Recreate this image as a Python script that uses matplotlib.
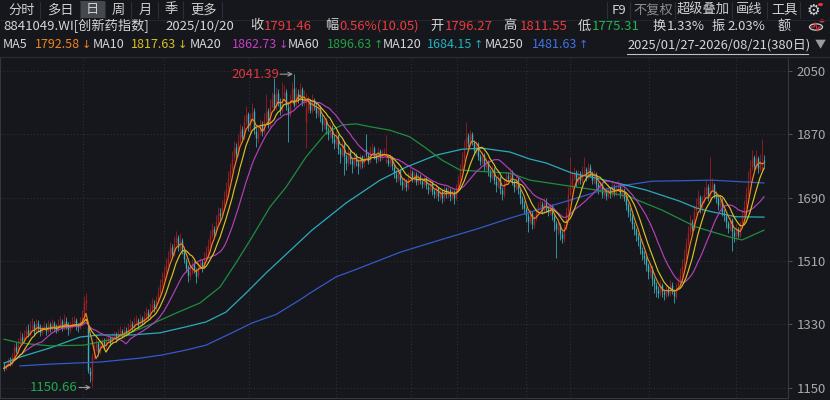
import matplotlib
matplotlib.use('Agg')
import matplotlib.pyplot as plt
import numpy as np
import pandas as pd
from matplotlib.patches import Rectangle, Circle
from matplotlib.lines import Line2D

plt.rcParams['font.family'] = ['Noto Sans CJK SC', 'DejaVu Sans']

# ---------------- data ----------------
closes = [
    1205, 1212, 1225, 1218, 1240, 1262, 1255, 1275, 1290, 1282,
    1298, 1310, 1302, 1318, 1325, 1312, 1330, 1320, 1308, 1316,
    1322, 1312, 1326, 1318, 1330, 1322, 1315, 1328, 1335, 1320,
    1336, 1328, 1318, 1325, 1332, 1340, 1326, 1322, 1338, 1352,
    1395, 1400, 1200, 1185, 1240, 1262, 1275, 1250, 1268, 1280,
    1270, 1282, 1290, 1278, 1295, 1300, 1288, 1305, 1310, 1298,
    1312, 1305, 1320, 1330, 1322, 1335, 1340, 1328, 1345, 1338,
    1350, 1362, 1355, 1372, 1385, 1378, 1398, 1420, 1445, 1460,
    1478, 1500, 1520, 1548, 1530, 1562, 1575, 1550, 1568, 1540,
    1515, 1490, 1470, 1478, 1500, 1485, 1468, 1495, 1505, 1490,
    1520, 1535, 1555, 1580, 1600, 1590, 1620, 1645, 1640, 1665,
    1690, 1715, 1745, 1770, 1800, 1830, 1815, 1850, 1880, 1862,
    1905, 1925, 1890, 1912, 1935, 1885, 1860, 1875, 1895, 1880,
    1910, 1935, 1900, 1950, 1970, 1945, 1985, 1960, 1940, 1975,
    1990, 1950, 1925, 1965, 2000, 1955, 1985, 1970, 1995, 1960,
    1975, 1945, 1960, 1940, 1965, 1950, 1930, 1945, 1920, 1900,
    1910, 1885, 1870, 1890, 1860, 1845, 1865, 1830, 1815, 1840,
    1810, 1790, 1820, 1800, 1785, 1810, 1795, 1780, 1805, 1790,
    1800, 1815, 1795, 1825, 1830, 1810, 1800, 1820, 1805, 1815,
    1820, 1800, 1790, 1805, 1780, 1760, 1745, 1765, 1740, 1725,
    1735, 1720, 1750, 1760, 1745, 1755, 1735, 1750, 1740, 1730,
    1740, 1725, 1715, 1730, 1710, 1700, 1715, 1695, 1705, 1690,
    1715, 1700, 1710, 1695, 1705, 1690, 1720, 1740, 1770, 1800,
    1830, 1860, 1845, 1870, 1850, 1825, 1840, 1810, 1795, 1810,
    1780, 1790, 1765, 1750, 1770, 1740, 1725, 1745, 1715, 1700,
    1730, 1750, 1745, 1760, 1735, 1720, 1740, 1715, 1690, 1675,
    1660, 1640, 1625, 1645, 1615, 1630, 1650, 1665, 1670, 1655,
    1675, 1660, 1650, 1665, 1640, 1620, 1600, 1610, 1590, 1575,
    1600, 1650, 1700, 1720, 1745, 1760, 1735, 1755, 1740, 1765,
    1770, 1750, 1775, 1760, 1740, 1755, 1730, 1715, 1725, 1700,
    1710, 1695, 1715, 1700, 1720, 1705, 1715, 1725, 1700, 1710,
    1690, 1670, 1650, 1640, 1615, 1600, 1585, 1570, 1545, 1530,
    1520, 1500, 1480, 1490, 1460, 1445, 1430, 1420, 1440, 1425,
    1415, 1430, 1420, 1440, 1425, 1410, 1435, 1450, 1470, 1495,
    1520, 1560, 1590, 1620, 1605, 1650, 1670, 1690, 1660, 1680,
    1700, 1720, 1690, 1710, 1725, 1700, 1690, 1670, 1680, 1650,
    1640, 1620, 1605, 1625, 1595, 1580, 1600, 1585, 1610, 1640,
    1665, 1700, 1740, 1775, 1800, 1780, 1800, 1775, 1795, 1781.41, 1791.46,
]
opens = [
    1215, 1203, 1214, 1228, 1220, 1242, 1265, 1258, 1278, 1295,
    1280, 1300, 1315, 1300, 1320, 1330, 1310, 1335, 1322, 1305,
    1318, 1326, 1310, 1330, 1316, 1334, 1325, 1312, 1330, 1340,
    1318, 1340, 1330, 1315, 1328, 1336, 1342, 1328, 1320, 1335,
    1350, 1392, 1322, 1198, 1172, 1245, 1265, 1278, 1252, 1270,
    1284, 1268, 1285, 1292, 1280, 1296, 1302, 1290, 1308, 1312,
    1296, 1315, 1306, 1322, 1332, 1320, 1338, 1342, 1330, 1348,
    1336, 1352, 1365, 1352, 1375, 1388, 1376, 1400, 1418, 1448,
    1462, 1480, 1502, 1522, 1550, 1528, 1565, 1578, 1548, 1570,
    1538, 1512, 1492, 1468, 1480, 1502, 1482, 1470, 1498, 1508,
    1492, 1522, 1538, 1558, 1582, 1602, 1592, 1622, 1648, 1642,
    1668, 1692, 1718, 1748, 1772, 1805, 1835, 1812, 1855, 1885,
    1860, 1908, 1928, 1888, 1915, 1938, 1880, 1858, 1878, 1898,
    1878, 1912, 1938, 1898, 1952, 1985, 1948, 1988, 1962, 1938,
    1978, 1992, 1948, 1928, 1968, 2002, 1958, 1988, 1972, 1998,
    1962, 1905, 1942, 1962, 1938, 1968, 1952, 1928, 1948, 1918,
    1898, 1912, 1882, 1868, 1892, 1858, 1842, 1868, 1828, 1812,
    1842, 1808, 1788, 1822, 1798, 1782, 1812, 1792, 1778, 1808,
    1788, 1830, 1812, 1792, 1828, 1832, 1808, 1798, 1822, 1802,
    1818, 1795, 1798, 1788, 1802, 1778, 1758, 1742, 1768, 1738,
    1722, 1738, 1718, 1752, 1762, 1742, 1758, 1732, 1752, 1738,
    1728, 1742, 1722, 1712, 1732, 1708, 1698, 1718, 1692, 1708,
    1688, 1718, 1698, 1712, 1692, 1708, 1688, 1722, 1742, 1772,
    1802, 1835, 1865, 1842, 1872, 1848, 1822, 1842, 1808, 1792,
    1812, 1778, 1792, 1762, 1748, 1772, 1738, 1722, 1748, 1712,
    1698, 1732, 1752, 1742, 1762, 1732, 1718, 1742, 1712, 1688,
    1672, 1658, 1638, 1622, 1648, 1612, 1632, 1652, 1668, 1672,
    1652, 1678, 1658, 1648, 1668, 1638, 1618, 1598, 1612, 1588,
    1572, 1602, 1652, 1702, 1722, 1748, 1762, 1732, 1758, 1738,
    1768, 1772, 1748, 1778, 1758, 1738, 1758, 1728, 1712, 1728,
    1698, 1712, 1692, 1718, 1698, 1722, 1702, 1718, 1728, 1698,
    1712, 1688, 1668, 1648, 1638, 1612, 1598, 1582, 1568, 1542,
    1528, 1518, 1498, 1478, 1488, 1458, 1442, 1428, 1418, 1442,
    1422, 1412, 1432, 1418, 1442, 1422, 1408, 1438, 1452, 1472,
    1498, 1522, 1562, 1592, 1622, 1602, 1652, 1672, 1692, 1658,
    1682, 1702, 1722, 1688, 1712, 1728, 1698, 1688, 1668, 1682,
    1648, 1638, 1618, 1602, 1628, 1592, 1578, 1602, 1582, 1612,
    1642, 1668, 1702, 1742, 1778, 1805, 1778, 1802, 1772, 1770, 1796.27,
]
highs = [
    1222, 1220, 1235, 1236, 1250, 1275, 1280, 1290, 1310, 1305,
    1315, 1325, 1332, 1340, 1348, 1340, 1345, 1342, 1330, 1328,
    1340, 1333, 1342, 1338, 1345, 1340, 1332, 1346, 1355, 1345,
    1360, 1350, 1338, 1340, 1350, 1355, 1348, 1335, 1352, 1370,
    1410, 1419, 1330, 1210, 1248, 1275, 1290, 1282, 1280, 1292,
    1290, 1295, 1302, 1298, 1305, 1312, 1308, 1318, 1325, 1318,
    1325, 1322, 1335, 1345, 1340, 1350, 1356, 1348, 1360, 1355,
    1368, 1380, 1375, 1390, 1405, 1398, 1412, 1435, 1460, 1478,
    1495, 1518, 1540, 1565, 1558, 1580, 1595, 1585, 1590, 1575,
    1545, 1520, 1500, 1492, 1515, 1510, 1490, 1508, 1520, 1515,
    1535, 1552, 1572, 1598, 1618, 1610, 1640, 1665, 1660, 1685,
    1710, 1735, 1765, 1790, 1822, 1850, 1845, 1870, 1900, 1895,
    1925, 1950, 1935, 1932, 1960, 1945, 1892, 1895, 1915, 1908,
    1930, 1985, 1945, 1970, 1990, 2031, 2005, 2000, 1975, 2018,
    2012, 2000, 1960, 1985, 2020, 2041.39, 2005, 1998, 2015, 2005,
    1995, 1988, 1980, 1972, 1985, 1975, 1960, 1962, 1955, 1928,
    1925, 1918, 1892, 1905, 1898, 1868, 1880, 1872, 1835, 1855,
    1848, 1815, 1835, 1828, 1805, 1822, 1818, 1800, 1815, 1812,
    1815, 1872, 1820, 1838, 1845, 1838, 1815, 1835, 1828, 1828,
    1832, 1868, 1808, 1815, 1808, 1785, 1768, 1775, 1772, 1745,
    1750, 1742, 1762, 1775, 1768, 1765, 1762, 1760, 1758, 1745,
    1752, 1748, 1730, 1742, 1738, 1715, 1728, 1722, 1715, 1712,
    1725, 1722, 1720, 1718, 1715, 1712, 1730, 1755, 1785, 1820,
    1855, 1905, 1875, 1882, 1878, 1855, 1852, 1848, 1815, 1822,
    1818, 1802, 1798, 1772, 1782, 1778, 1748, 1758, 1752, 1720,
    1742, 1765, 1762, 1775, 1768, 1740, 1752, 1748, 1718, 1695,
    1680, 1665, 1648, 1658, 1652, 1642, 1662, 1678, 1688, 1680,
    1688, 1690, 1668, 1675, 1672, 1645, 1625, 1625, 1618, 1595,
    1615, 1665, 1720, 1805, 1765, 1778, 1768, 1768, 1765, 1780,
    1807, 1778, 1790, 1785, 1765, 1768, 1762, 1735, 1738, 1732,
    1722, 1718, 1728, 1722, 1735, 1728, 1728, 1740, 1732, 1722,
    1718, 1695, 1675, 1660, 1645, 1620, 1605, 1590, 1575, 1550,
    1538, 1525, 1505, 1502, 1495, 1465, 1450, 1438, 1455, 1448,
    1432, 1445, 1440, 1455, 1450, 1430, 1448, 1465, 1490, 1515,
    1545, 1575, 1610, 1640, 1630, 1668, 1690, 1712, 1698, 1695,
    1720, 1740, 1728, 1806, 1745, 1732, 1708, 1695, 1692, 1688,
    1658, 1645, 1625, 1638, 1632, 1600, 1615, 1608, 1625, 1655,
    1685, 1720, 1765, 1798, 1825, 1812, 1825, 1808, 1815, 1857, 1811.55,
]
lows = [
    1198, 1200, 1208, 1212, 1215, 1238, 1248, 1250, 1270, 1275,
    1276, 1292, 1295, 1296, 1310, 1300, 1305, 1310, 1298, 1300,
    1310, 1300, 1305, 1308, 1310, 1312, 1305, 1308, 1322, 1310,
    1315, 1318, 1300, 1305, 1320, 1325, 1315, 1308, 1316, 1330,
    1345, 1370, 1191, 1165, 1150.66, 1232, 1255, 1240, 1245, 1262,
    1262, 1260, 1276, 1268, 1274, 1288, 1280, 1285, 1298, 1290,
    1292, 1298, 1300, 1315, 1312, 1316, 1328, 1318, 1325, 1328,
    1332, 1345, 1345, 1348, 1368, 1365, 1372, 1395, 1412, 1440,
    1455, 1472, 1495, 1515, 1520, 1525, 1555, 1540, 1540, 1530,
    1505, 1478, 1450, 1455, 1472, 1475, 1447, 1462, 1488, 1480,
    1488, 1515, 1530, 1550, 1575, 1578, 1585, 1615, 1628, 1635,
    1660, 1685, 1710, 1740, 1765, 1795, 1800, 1808, 1845, 1848,
    1855, 1898, 1880, 1875, 1905, 1870, 1835, 1845, 1868, 1865,
    1870, 1905, 1888, 1892, 1945, 1940, 1940, 1950, 1925, 1932,
    1965, 1940, 1848, 1920, 1960, 1948, 1950, 1958, 1965, 1950,
    1952, 1832, 1932, 1930, 1930, 1940, 1918, 1920, 1905, 1880,
    1885, 1870, 1855, 1860, 1845, 1830, 1835, 1815, 1790, 1805,
    1755, 1770, 1780, 1785, 1760, 1775, 1780, 1758, 1772, 1775,
    1778, 1805, 1785, 1788, 1815, 1800, 1788, 1792, 1795, 1798,
    1808, 1788, 1780, 1778, 1770, 1745, 1735, 1735, 1725, 1712,
    1715, 1708, 1712, 1745, 1735, 1735, 1725, 1725, 1730, 1718,
    1720, 1715, 1700, 1705, 1698, 1688, 1690, 1680, 1685, 1675,
    1682, 1690, 1690, 1682, 1685, 1672, 1685, 1715, 1735, 1765,
    1795, 1828, 1835, 1835, 1840, 1812, 1815, 1798, 1782, 1785,
    1765, 1768, 1752, 1735, 1742, 1728, 1705, 1718, 1700, 1685,
    1692, 1725, 1735, 1738, 1725, 1705, 1712, 1700, 1672, 1658,
    1645, 1622, 1592, 1615, 1600, 1605, 1625, 1645, 1658, 1645,
    1648, 1650, 1638, 1640, 1628, 1595, 1518, 1585, 1570, 1560,
    1565, 1598, 1645, 1695, 1715, 1740, 1722, 1725, 1728, 1732,
    1755, 1738, 1742, 1748, 1728, 1730, 1718, 1702, 1705, 1690,
    1690, 1685, 1688, 1690, 1692, 1695, 1696, 1710, 1690, 1690,
    1680, 1655, 1635, 1625, 1600, 1585, 1568, 1552, 1530, 1512,
    1502, 1482, 1458, 1465, 1440, 1418, 1408, 1405, 1412, 1408,
    1400, 1405, 1410, 1412, 1415, 1392, 1402, 1430, 1445, 1465,
    1490, 1515, 1555, 1585, 1595, 1598, 1645, 1662, 1648, 1650,
    1675, 1695, 1680, 1682, 1705, 1688, 1675, 1655, 1660, 1638,
    1625, 1605, 1590, 1595, 1540, 1565, 1570, 1575, 1578, 1605,
    1635, 1660, 1695, 1735, 1770, 1768, 1772, 1760, 1765, 1765, 1775.31,
]

# long moving averages (candle index, value)
ma60_idx = [0, 8, 23, 40, 53, 64, 75, 86, 98, 108, 116, 124, 133, 141, 151, 161, 169, 176,
            184, 193, 203, 211, 219, 228, 238, 253, 263, 296, 313, 329, 346, 363, 369, 380]
ma60_val = [1288, 1277, 1269, 1271, 1286, 1308, 1334, 1362, 1391, 1436, 1505, 1578, 1664, 1720,
            1806, 1874, 1897, 1900, 1891, 1882, 1863, 1831, 1797, 1769, 1765, 1760, 1740, 1712,
            1692, 1655, 1607, 1578, 1570, 1598]
ma120_idx = [0, 8, 23, 38, 48, 64, 78, 91, 101, 111, 121, 131, 138, 154, 171, 188, 201, 216,
             229, 239, 253, 263, 271, 284, 296, 308, 321, 338, 346, 354, 366, 380]
ma120_val = [1220, 1237, 1263, 1294, 1300, 1300, 1306, 1323, 1337, 1365, 1419, 1476, 1513, 1598,
             1675, 1740, 1777, 1811, 1828, 1831, 1820, 1800, 1789, 1760, 1746, 1730, 1712, 1680,
             1661, 1650, 1636, 1635]
ma250_idx = [8, 23, 48, 68, 79, 91, 101, 114, 124, 136, 148, 153, 166, 175, 198, 218, 238, 253,
             263, 288, 304, 324, 354, 380]
ma250_val = [1212, 1217, 1223, 1234, 1243, 1257, 1271, 1306, 1334, 1358, 1400, 1419, 1465, 1484,
             1535, 1570, 1604, 1632, 1649, 1692, 1720, 1737, 1740, 1732]

yticks = [1150, 1330, 1510, 1690, 1870, 2050]
vgrid_idx = [39.5, 80, 122.5, 166, 203.5, 226.5, 261, 283, 322.5, 366]

hi_idx, hi_val = 145, 2041.39
lo_idx, lo_val = 44, 1150.66

ma_names = ['MA5', 'MA10', 'MA20', 'MA60', 'MA120', 'MA250']
ma_last = ['1792.58', '1817.63', '1862.73', '1896.63', '1684.15', '1481.63']
ma_dir = ['↓', '↓', '↓', '↑', '↑', '↑']

assert len(closes) == len(opens) == len(highs) == len(lows), (len(closes), len(opens), len(highs), len(lows))

# ---------------- figure ----------------
W, H = 830, 400
BG = '#15171c'
fig = plt.figure(figsize=(W / 100, H / 100), dpi=100)
fig.patch.set_facecolor(BG)

ax = fig.add_axes([0, (H - 398) / H, 788 / W, (398 - 57) / H])
ax.set_facecolor(BG)

n = len(closes)
idx = np.arange(n)
o = np.array(opens, float); c = np.array(closes, float)
h = np.array(highs, float); l = np.array(lows, float)
up = c >= o
RED, CYAN = '#a81d20', '#37b4c1'
cols = np.where(up, RED, CYAN)

# grid
for yv in yticks:
    ax.axhline(yv, color='#2d3036', lw=0.8, ls=(0, (1, 2)), zorder=0)
for gx in vgrid_idx:
    ax.axvline(gx, color='#2d3036', lw=0.8, ls=(0, (1, 2)), zorder=0)

# candles
ax.vlines(idx, l, h, colors=cols, lw=0.55, zorder=2)
bot = np.minimum(o, c)
top = np.maximum(np.maximum(o, c), bot + 2)
ax.vlines(idx, bot, top, colors=cols, lw=1.0, zorder=2)

# moving averages
s = pd.Series(c)
ma5 = s.rolling(5, min_periods=1).mean()
ma10 = s.rolling(10, min_periods=1).mean()
ma20 = s.rolling(20, min_periods=1).mean()
C_MA5, C_MA10, C_MA20 = '#f0851c', '#d9c323', '#b63fba'
C_MA60, C_MA120, C_MA250 = '#1f8e3c', '#2aabbb', '#3459c9'
ax.plot(ma250_idx, ma250_val, color=C_MA250, lw=0.9, zorder=3)
ax.plot(ma120_idx, ma120_val, color=C_MA120, lw=0.9, zorder=3)
ax.plot(ma60_idx, ma60_val, color=C_MA60, lw=0.9, zorder=3)
ax.plot(idx, ma20, color=C_MA20, lw=0.85, zorder=4)
ax.plot(idx, ma10, color=C_MA10, lw=0.85, zorder=4)
ax.plot(idx, ma5, color=C_MA5, lw=0.85, zorder=5)

ax.set_xlim(-2, 392)
ax.set_ylim(1120.7, 2090.2)

ax.spines['top'].set_visible(False)
for sp in ['left', 'right', 'bottom']:
    ax.spines[sp].set_color('#34373d')
    ax.spines[sp].set_linewidth(0.8)
ax.set_xticks([])
ax.yaxis.tick_right()
ax.set_yticks(yticks)
ax.set_yticklabels([str(v) for v in yticks])
ax.tick_params(axis='y', colors='#4a4d53', labelcolor='#a9a9a9', labelsize=9.5, length=3, pad=3)

# high / low annotations
ax.annotate('', xy=(hi_idx - 0.5, hi_val), xytext=(hi_idx - 7, hi_val),
            arrowprops=dict(arrowstyle='->', color='#9c9c9c', lw=0.8, shrinkA=0, shrinkB=0,
                            mutation_scale=7))
ax.text(hi_idx - 7.5, hi_val, f'{hi_val:.2f}', color='#e0393e', fontsize=9.5, ha='right', va='center')
ax.annotate('', xy=(lo_idx - 0.5, lo_val), xytext=(lo_idx - 6.5, lo_val),
            arrowprops=dict(arrowstyle='->', color='#9c9c9c', lw=0.8, shrinkA=0, shrinkB=0,
                            mutation_scale=7))
ax.text(lo_idx - 7, lo_val, f'{lo_val:.2f}', color='#22a84c', fontsize=9.5, ha='right', va='center')

# ---------------- header ----------------
def T(x, y, s, color='#d6d6d6', size=9.5, ha='left', **kw):
    fig.text(x / W, 1 - y / H, s, color=color, fontsize=size, ha=ha, va='center', **kw)

def hline(x0, x1, y, color, lw=0.8):
    fig.add_artist(Line2D([x0 / W, x1 / W], [1 - y / H, 1 - y / H], color=color, lw=lw,
                          transform=fig.transFigure))

def vline(x, y0, y1, color, lw=0.8):
    fig.add_artist(Line2D([x / W, x / W], [1 - y0 / H, 1 - y1 / H], color=color, lw=lw,
                          transform=fig.transFigure))

# row 1 tabs
fig.add_artist(Rectangle((80 / W, 1 - 18 / H), 25 / W, 17 / H, transform=fig.transFigure,
                         facecolor='#45484f', edgecolor='none'))
for sx in [40, 80, 105, 131, 158, 183, 222, 607, 630, 675, 732, 767, 800]:
    vline(sx, 2, 18, '#2c2f35')
hline(0, 830, 19.5, '#23262b')
tabs = [('分时', 8), ('多日', 47), ('日', 86), ('周', 112), ('月', 139), ('季', 165), ('更多', 190)]
for s_, x_ in tabs:
    T(x_, 10, s_, color='#d0d0d0')
T(612, 10, 'F9', color='#d0d0d0')
T(633, 10, '不复权', color='#8d8d8d')
T(677, 10, '超级叠加', color='#d0d0d0')
T(736, 10, '画线', color='#d0d0d0')
T(771, 10, '工具', color='#d0d0d0')
T(813, 10, '\u2699', color='#d0d0d0', size=11, ha='center', family=['DejaVu Sans'])
fig.add_artist(Circle((820.5 / W, 1 - 4.5 / H), 1.8 / W, transform=fig.transFigure,
                      color='#e8343a'))

# row 2 quote
WHITE = '#d6d6d6'
QRED, QGREEN = '#ee3a3f', '#22b24c'
row2 = [('8841049.WI[创新药指数]', 3, WHITE), ('2025/10/20', 165, WHITE),
        ('收', 250, WHITE), ('1791.46', 264, QRED),
        ('幅', 325, WHITE), ('0.56%(10.05)', 339, QRED),
        ('开', 430, WHITE), ('1796.27', 445, QRED),
        ('高', 503, WHITE), ('1811.55', 520, QRED),
        ('低', 578, WHITE), ('1775.31', 592, QGREEN),
        ('换', 653, WHITE), ('1.33%', 667, WHITE),
        ('振', 712, WHITE), ('2.03%', 727, WHITE),
        ('额', 778, WHITE)]
for s_, x_, col in row2:
    T(x_, 26, s_, color=col)
fig.add_artist(Circle((816 / W, 1 - 27 / H), 6.5 / W, transform=fig.transFigure,
                      facecolor='none', edgecolor='#cfcfcf', lw=0.9))
fig.add_artist(Line2D([811 / W, 814 / W, 815.5 / W, 817.5 / W, 819 / W, 821 / W],
                      [1 - 27 / H, 1 - 27 / H, 1 - 23 / H, 1 - 31 / H, 1 - 27 / H, 1 - 27 / H],
                      color='#e8343a', lw=0.8, transform=fig.transFigure))
fig.add_artist(Circle((822 / W, 1 - 21 / H), 1.8 / W, transform=fig.transFigure, color='#e8343a'))

# row 3 MA legend
ma_label_cols = [C_MA5, '#d6c21e', '#c43fc6', '#22a043', '#22b1c2', '#4172e3']
name_x = [3, 93, 190, 288, 383, 485]
val_x = [35, 131, 232, 327, 427, 532]
for nm, v, d, col, nx, vx in zip(ma_names, ma_last, ma_dir, ma_label_cols, name_x, val_x):
    T(nx, 45, nm, color=WHITE, size=9)
    T(vx, 45, v, color=col, size=9)
    T(vx + 47, 45, d, color=col, size=8, family=['DejaVu Sans'])
T(627, 45, '2025/01/27-2026/08/21(380日)', color=WHITE, size=9.3)
hline(627, 808, 53.5, '#bfbfbf', lw=0.8)
T(815, 45, '▼', color='#9a9a9a', size=8)

hline(0, 830, 57, '#2a2d33', lw=0.9)

fig.savefig('out.png', dpi=100, facecolor=BG)
